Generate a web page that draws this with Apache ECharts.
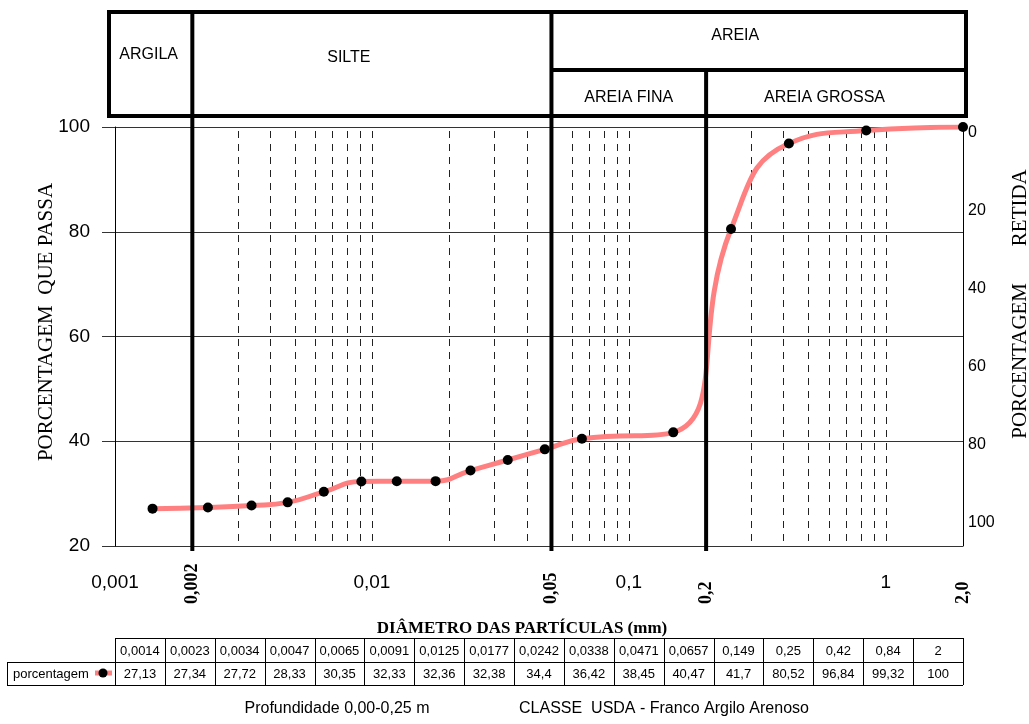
<!DOCTYPE html>
<html>
<head>
<meta charset="utf-8">
<script src="https://cdn.jsdelivr.net/npm/echarts@6/dist/echarts.min.js"></script>
<style>
html,body{margin:0;padding:0;background:#fff;}
#chart{width:1029px;height:724px;}
</style>
</head>
<body>
<div id="chart"></div>
<script>
// ---- data ----
const diameters = [0.0014, 0.0023, 0.0034, 0.0047, 0.0065, 0.0091, 0.0125, 0.0177, 0.0242, 0.0338, 0.0471, 0.0657, 0.149, 0.25, 0.42, 0.84, 2];
const passing = [27.13, 27.34, 27.72, 28.33, 30.35, 32.33, 32.36, 32.38, 34.4, 36.42, 38.45, 40.47, 41.7, 80.52, 96.84, 99.32, 100];
const seriesName = 'porcentagem';
const mainTicks = [0.001, 0.01, 0.1, 1];
const mainTickLabels = ['0,001', '0,01', '0,1', '1'];
const boundaryTicks = [0.002, 0.05, 0.2, 2.0];
const boundaryTickLabels = ['0,002', '0,05', '0,2', '2,0'];
const minorLines = [0.003, 0.004, 0.005, 0.006, 0.007, 0.008, 0.009, 0.01, 0.02, 0.03, 0.04, 0.06, 0.07, 0.08, 0.09, 0.1, 0.3, 0.4, 0.5, 0.6, 0.7, 0.8, 0.9, 1.0];
const headerTop = ['ARGILA', 'SILTE', 'AREIA'];
const headerSub = ['AREIA FINA', 'AREIA GROSSA'];
const yTitleLeft = 'PORCENTAGEM  QUE PASSA';
const yTitleRight = 'PORCENTAGEM       RETIDA';
const xTitle = 'DIÂMETRO DAS PARTÍCULAS (mm)';
const footLeft = 'Profundidade 0,00-0,25 m';
const footRight = 'CLASSE  USDA - Franco Argilo Arenoso';

function lookupLabel(v, ticks, labels) {
  let best = 0, bd = Infinity;
  ticks.forEach((t, i) => { const d = Math.abs(Math.log10(v) - Math.log10(t)); if (d < bd) { bd = d; best = i; } });
  return bd < 0.01 ? labels[best] : '';
}
const fmt = v => String(v).replace('.', ',');

const chart = echarts.init(document.getElementById('chart'), null, {renderer: 'canvas'});
const G = {left: 115, right: 66, top: 127, bottom: 178};
const lineColor = '#FF8080';

chart.setOption({
  animation: false,
  backgroundColor: '#fff',
  grid: [
    {left: G.left, right: G.right, top: G.top, bottom: G.bottom},
    {left: G.left, right: G.right, top: 133, bottom: 201}
  ],
  xAxis: [
    {type: 'log', logBase: 10, min: 0.001, max: 2, gridIndex: 0, position: 'bottom',
     axisLine: {show: false}, axisTick: {show: false}, splitLine: {show: false}, minorTick: {show: false},
     axisLabel: {customValues: mainTicks, formatter: v => lookupLabel(v, mainTicks, mainTickLabels),
       fontFamily: 'Liberation Sans', fontSize: 19, color: '#000', margin: 27, showMinLabel: true, showMaxLabel: true}},
    {type: 'log', logBase: 10, min: 0.001, max: 2, gridIndex: 0, position: 'bottom',
     axisLine: {show: false}, axisTick: {show: false}, splitLine: {show: false},
     axisLabel: {customValues: boundaryTicks, formatter: v => lookupLabel(v, boundaryTicks, boundaryTickLabels),
       rotate: 90, align: 'left', verticalAlign: 'middle', margin: 58,
       fontFamily: 'Liberation Serif', fontWeight: 'bold', fontSize: 18, color: '#000', showMinLabel: true, showMaxLabel: true}},
    {type: 'value', gridIndex: 1, show: false}
  ],
  yAxis: [
    {type: 'value', gridIndex: 0, min: 20, max: 100, interval: 20, position: 'left',
     axisLine: {show: true, lineStyle: {color: '#000', width: 1}},
     axisTick: {show: true, inside: false, length: 13, lineStyle: {color: '#333'}},
     splitLine: {show: true, lineStyle: {color: '#333', width: 1}},
     axisLabel: {fontFamily: 'Liberation Sans', fontSize: 19, color: '#000', margin: 25}},
    {type: 'value', gridIndex: 0, min: 20, max: 100, interval: 20, position: 'right',
     axisLine: {show: true, lineStyle: {color: '#000', width: 1}},
     axisTick: {show: false}, splitLine: {show: false}, axisLabel: {show: false}},
    {type: 'value', gridIndex: 1, min: 0, max: 100, interval: 20, position: 'right', inverse: true,
     axisLine: {show: false}, axisTick: {show: false}, splitLine: {show: false},
     axisLabel: {fontFamily: 'Liberation Sans', fontSize: 16, color: '#000', margin: 5, align: 'left'}}
  ],
  series: [
    {type: 'line', name: seriesName, xAxisIndex: 0, yAxisIndex: 0, z: 5,
     data: diameters.map((d, i) => [d, passing[i]]),
     smooth: 0.5, symbol: 'circle', symbolSize: 10,
     itemStyle: {color: '#000'},
     lineStyle: {color: lineColor, width: 5}}
  ]
});

// ---- decorations that depend on the axis scales ----
const px = v => chart.convertToPixel({xAxisIndex: 0}, v);
const py = v => chart.convertToPixel({yAxisIndex: 0}, v);
const x002 = px(0.002), x05 = px(0.05), x2 = px(0.2), xMin = px(0.001), xMax = px(2);
const yBottom = py(20), yTop = py(100);
const g = [];
// dashed log grid lines
minorLines.forEach(v => {
  const x = Math.round(px(v)) + 0.5;
  g.push({type: 'line', silent: true, z: 1, shape: {x1: x, y1: yTop + 4, x2: x, y2: yBottom},
    style: {stroke: '#222', lineWidth: 1, lineDash: [7, 6]}});
});
const thick = {stroke: '#000', lineWidth: 4};
// header box
g.push({type: 'rect', shape: {x: xMin - 6, y: 12, width: (xMax + 3) - (xMin - 6), height: 104}, style: {fill: null, stroke: '#000', lineWidth: 4}, z: 10});
g.push({type: 'line', shape: {x1: x002, y1: 12, x2: x002, y2: yBottom + 5}, style: thick, z: 10});
g.push({type: 'line', shape: {x1: x05, y1: 12, x2: x05, y2: yBottom + 5}, style: thick, z: 10});
g.push({type: 'line', shape: {x1: x2, y1: 70, x2: x2, y2: yBottom + 5}, style: thick, z: 10});
g.push({type: 'line', shape: {x1: x05, y1: 70, x2: xMax + 3, y2: 70}, style: thick, z: 10});
const hdrFont = {fontFamily: 'Liberation Sans', fontSize: 16, fill: '#000', align: 'center', verticalAlign: 'middle'};
g.push({type: 'text', x: (xMin - 6 + x002) / 2 - 2, y: 55, style: Object.assign({text: headerTop[0]}, hdrFont), z: 11});
g.push({type: 'text', x: (x002 + x05) / 2 - 23, y: 58, style: Object.assign({text: headerTop[1]}, hdrFont), z: 11});
g.push({type: 'text', x: (x05 + xMax) / 2 - 22, y: 36, style: Object.assign({text: headerTop[2]}, hdrFont), z: 11});
g.push({type: 'text', x: (x05 + x2) / 2, y: 98, style: Object.assign({text: headerSub[0]}, hdrFont), z: 11});
g.push({type: 'text', x: (x2 + xMax) / 2 - 10, y: 98, style: Object.assign({text: headerSub[1]}, hdrFont), z: 11});
// axis titles
g.push({type: 'text', x: 46, y: 322, rotation: Math.PI / 2,
  style: {text: yTitleLeft, fontFamily: 'Liberation Serif', fontSize: 21, fill: '#000', align: 'center', verticalAlign: 'middle'}});
g.push({type: 'text', x: 1020, y: 304, rotation: Math.PI / 2,
  style: {text: yTitleRight, fontFamily: 'Liberation Serif', fontSize: 21, fill: '#000', align: 'center', verticalAlign: 'middle'}});
g.push({type: 'text', x: 522, y: 629,
  style: {text: xTitle, fontFamily: 'Liberation Serif', fontWeight: 'bold', fontSize: 17, fill: '#000', align: 'center', verticalAlign: 'middle'}});
// data table
const n = diameters.length;
const colW = (xMax - xMin) / n;
const r0 = 638, r1 = 662, r2 = 685, labelLeft = 7;
const tl = {stroke: '#000', lineWidth: 1};
g.push({type: 'line', shape: {x1: xMin, y1: r0 + 0.5, x2: xMax, y2: r0 + 0.5}, style: tl});
g.push({type: 'line', shape: {x1: labelLeft, y1: r1 + 0.5, x2: xMax, y2: r1 + 0.5}, style: tl});
g.push({type: 'line', shape: {x1: labelLeft, y1: r2 + 0.5, x2: xMax, y2: r2 + 0.5}, style: tl});
g.push({type: 'line', shape: {x1: labelLeft + 0.5, y1: r1, x2: labelLeft + 0.5, y2: r2}, style: tl});
for (let i = 0; i <= n; i++) {
  const x = Math.round(xMin + i * colW) + 0.5;
  g.push({type: 'line', shape: {x1: x, y1: r0, x2: x, y2: r2}, style: tl});
}
const cellFont = {fontFamily: 'Liberation Sans', fontSize: 13, fill: '#000', align: 'center', verticalAlign: 'middle'};
diameters.forEach((d, i) => {
  const cx = xMin + (i + 0.5) * colW;
  g.push({type: 'text', x: cx, y: (r0 + r1) / 2 + 1, style: Object.assign({text: fmt(d)}, cellFont)});
  g.push({type: 'text', x: cx, y: (r1 + r2) / 2 + 1, style: Object.assign({text: fmt(passing[i])}, cellFont)});
});
g.push({type: 'text', x: 13, y: (r1 + r2) / 2 + 1, style: {text: seriesName, fontFamily: 'Liberation Sans', fontSize: 13, fill: '#000', align: 'left', verticalAlign: 'middle'}});
g.push({type: 'line', shape: {x1: 95, y1: 673, x2: 112, y2: 673}, style: {stroke: lineColor, lineWidth: 5}});
g.push({type: 'circle', shape: {cx: 103, cy: 673, r: 4.5}, style: {fill: '#000'}});
// footer
g.push({type: 'text', x: 337, y: 709, style: {text: footLeft, fontFamily: 'Liberation Sans', fontSize: 16, fill: '#000', align: 'center', verticalAlign: 'middle'}});
g.push({type: 'text', x: 664, y: 709, style: {text: footRight, fontFamily: 'Liberation Sans', fontSize: 16, fill: '#000', align: 'center', verticalAlign: 'middle'}});

chart.setOption({graphic: g});
</script>
</body>
</html>
